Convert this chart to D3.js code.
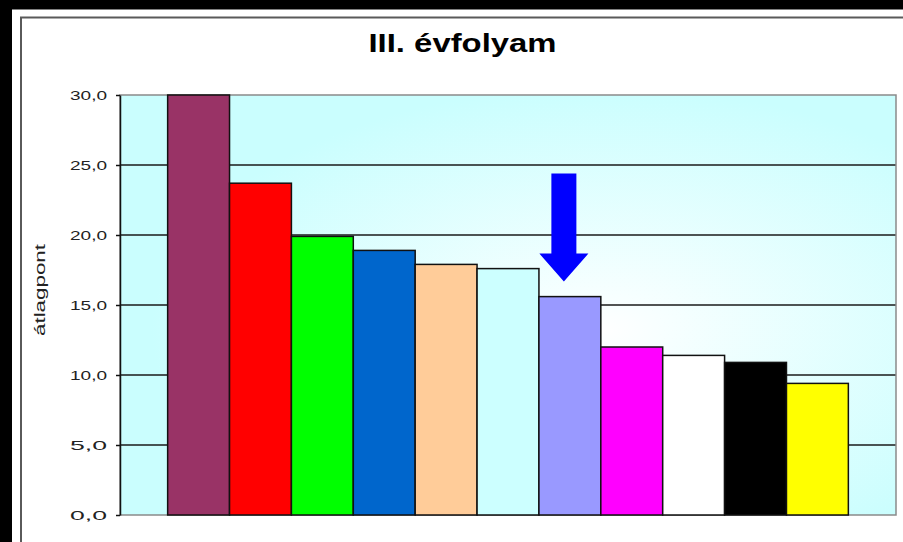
<!DOCTYPE html>
<html>
<head>
<meta charset="utf-8">
<script src="https://cdn.jsdelivr.net/npm/d3@7/dist/d3.min.js"></script>
<style>
  html, body { margin: 0; padding: 0; background: #fff; overflow: hidden; }
  svg { display: block; }
  text { font-family: Arial, "Liberation Sans", sans-serif; }
</style>
</head>
<body>
<script>
// ---- data ----
const title = "III. évfolyam";
const yLabel = "átlagpont";
const categories = ["1", "2", "3", "4", "5", "6", "7", "8", "9", "10", "11"];
const values = [30.0, 23.7, 19.9, 18.9, 17.9, 17.6, 15.6, 12.0, 11.4, 10.9, 9.4];
const barColors = ["#993366", "#FF0000", "#00FF00", "#0066CC", "#FFCC99", "#CCFFFF",
                   "#9999FF", "#FF00FF", "#FFFFFF", "#000000", "#FFFF00"];
const yTicks = [0, 5, 10, 15, 20, 25, 30];
const highlighted = "7";   // bar marked by the arrow

// ---- layout ----
const W = 903, H = 542;
const plot = { left: 120, top: 95, right: 896, bottom: 515 };

const svg = d3.select("body").append("svg").attr("width", W).attr("height", H);

// outer frame
svg.append("rect").attr("x", 0).attr("y", 0).attr("width", W).attr("height", H).attr("fill", "#000");
svg.append("rect").attr("x", 12).attr("y", 9.5).attr("width", W).attr("height", H).attr("fill", "#fff");
svg.append("rect").attr("x", 21).attr("y", 17.5).attr("width", W + 20).attr("height", H + 20)
   .attr("fill", "none").attr("stroke", "#5a5a5a").attr("stroke-width", 2);

// gradient
const defs = svg.append("defs");
const grad = defs.append("radialGradient").attr("id", "bg")
  .attr("cx", 0.62).attr("cy", 0.56).attr("r", 0.58).attr("fx", 0.62).attr("fy", 0.56);
grad.append("stop").attr("offset", "0%").attr("stop-color", "#FFFFFF");
grad.append("stop").attr("offset", "12%").attr("stop-color", "#F8FFFF");
grad.append("stop").attr("offset", "100%").attr("stop-color", "#CAFEFE");

// scales
const x = d3.scaleBand().domain(categories).range([plot.left, plot.right])
  .paddingInner(0).paddingOuter(0.77);
const y = d3.scaleLinear().domain([0, 30]).range([plot.bottom, plot.top]);

// plot background
svg.append("rect").attr("x", plot.left).attr("y", plot.top)
  .attr("width", plot.right - plot.left).attr("height", plot.bottom - plot.top)
  .attr("fill", "url(#bg)");

// gridlines
svg.append("g").selectAll("line").data(yTicks.filter(t => t > 0 && t < 30)).join("line")
  .attr("x1", plot.left).attr("x2", plot.right)
  .attr("y1", d => y(d)).attr("y2", d => y(d))
  .attr("stroke", "#1a1a1a").attr("stroke-width", 1.5);

// plot border (top/right/bottom gray)
svg.append("rect").attr("x", plot.left).attr("y", plot.top)
  .attr("width", plot.right - plot.left).attr("height", plot.bottom - plot.top)
  .attr("fill", "none").attr("stroke", "#8a8a8a").attr("stroke-width", 1.5);

// bars
svg.append("g").selectAll("rect").data(categories).join("rect")
  .attr("x", d => x(d))
  .attr("y", (d, i) => y(values[i]))
  .attr("width", x.bandwidth())
  .attr("height", (d, i) => y(0) - y(values[i]))
  .attr("fill", (d, i) => barColors[i])
  .attr("stroke", "#111").attr("stroke-width", 1.5);

// y axis
const fmt = v => d3.format(".1f")(v).replace(".", ",");
const yAxis = d3.axisLeft(y).tickValues(yTicks).tickSize(4).tickSizeOuter(0).tickFormat(fmt);
const ga = svg.append("g").attr("transform", `translate(${plot.left},0)`).call(yAxis);
ga.select(".domain").attr("stroke", "#111").attr("stroke-width", 1.5);
ga.selectAll(".tick line").attr("stroke", "#111").attr("stroke-width", 1.5);
ga.selectAll(".tick text")
  .attr("x", -13).attr("dy", "0.36em")
  .attr("font-size", 13.5).attr("fill", "#222")
  .attr("textLength", 37).attr("lengthAdjust", "spacingAndGlyphs")
  .attr("font-family", "Arial, 'Liberation Sans', sans-serif");

// y label
svg.append("text")
  .attr("transform", `translate(45,290) rotate(-90)`)
  .attr("text-anchor", "middle")
  .attr("font-size", 15).attr("fill", "#222")
  .attr("textLength", 92).attr("lengthAdjust", "spacingAndGlyphs")
  .text(yLabel);

// title
svg.append("text")
  .attr("x", 462.5).attr("y", 52)
  .attr("text-anchor", "middle")
  .attr("font-size", 25).attr("font-weight", "bold").attr("fill", "#000")
  .attr("textLength", 188).attr("lengthAdjust", "spacingAndGlyphs")
  .text(title);

// arrow annotation pointing at the highlighted bar
const hi = categories.indexOf(highlighted);
const ax = x(highlighted) + x.bandwidth() / 2 - 6;
const tipY = y(values[hi]) - 15;
const headH = 28, headW = 49, shaftW = 25, shaftLen = 80;
const arrowPath = d3.path();
arrowPath.moveTo(ax - shaftW / 2, tipY - headH - shaftLen);
arrowPath.lineTo(ax + shaftW / 2, tipY - headH - shaftLen);
arrowPath.lineTo(ax + shaftW / 2, tipY - headH);
arrowPath.lineTo(ax + headW / 2, tipY - headH);
arrowPath.lineTo(ax, tipY);
arrowPath.lineTo(ax - headW / 2, tipY - headH);
arrowPath.lineTo(ax - shaftW / 2, tipY - headH);
arrowPath.closePath();
svg.append("path").attr("d", arrowPath.toString()).attr("fill", "#0000FF");
</script>
</body>
</html>
